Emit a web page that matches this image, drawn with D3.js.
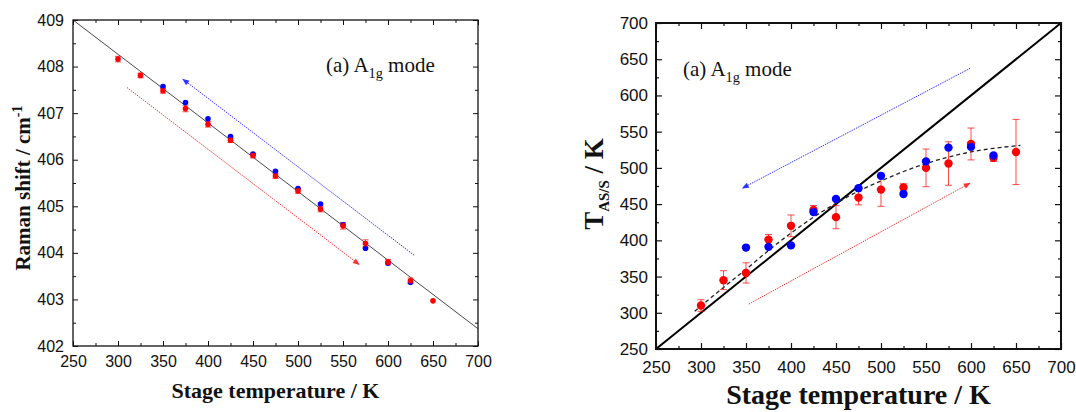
<!DOCTYPE html>
<html>
<head>
<meta charset="utf-8">
<script src="https://cdn.jsdelivr.net/npm/d3@7"></script>
<style>
  html, body { margin: 0; padding: 0; background: #fff; }
  svg { display: block; }
  .tick-label { font-family: "Liberation Sans", Arial, sans-serif; fill: #111; }
  .axis-title { font-family: "Liberation Serif", "Times New Roman", serif; font-weight: bold; fill: #111; }
  .note { font-family: "Liberation Serif", "Times New Roman", serif; fill: #111; }
</style>
</head>
<body>
<svg id="chart" width="1076" height="412"></svg>
<script>
// ── Data ──────────────────────────────────────────────────────────────────────

const xTicks = [250, 300, 350, 400, 450, 500, 550, 600, 650, 700];
const ramanTicks = [402, 403, 404, 405, 406, 407, 408, 409];
const tempTicks = [250, 300, 350, 400, 450, 500, 550, 600, 650, 700];

// left: Raman shift (cm-1)
const ramanRedT   = [300, 325, 350, 375, 400, 425, 450, 475, 500, 525, 550, 575, 600, 625, 650];
const ramanRed    = [408.16, 407.81, 407.48, 407.10, 406.76, 406.42, 406.09, 405.65, 405.33, 404.94, 404.58, 404.20, 403.80, 403.40, 402.97];
const ramanRedErr = [0.06, 0.05, 0.05, 0.07, 0.06, 0.05, 0.05, 0.05, 0.05, 0.06, 0.07, 0.08, 0.06, 0.06, 0.0];
const ramanBlueT  = [350, 375, 400, 425, 450, 475, 500, 525, 550, 575, 600, 625];
const ramanBlue   = [407.57, 407.23, 406.88, 406.50, 406.12, 405.75, 405.38, 405.05, 404.60, 404.10, 403.78, 403.37];
const ramanFit    = [[250, 409.0], [700, 402.37]];
const ramanArrowBlue = [[629, 403.95], [372, 407.73]];
const ramanArrowRed  = [[310, 407.55], [568, 403.75]];

// right: T_AS/S (K)
const tasRedT   = [300, 325, 350, 375, 400, 425, 450, 475, 500, 525, 550, 575, 600, 625, 650];
const tasRed    = [310, 345, 355, 401, 420, 442, 432, 459, 470, 473, 500, 506, 533, 514, 522];
const tasRedErr = [8, 13, 14, 7, 15, 6, 16, 10, 23, 5, 26, 30, 22, 5, 45];
const tasBlueT  = [350, 375, 400, 425, 450, 475, 500, 525, 550, 575, 600, 625];
const tasBlue   = [390, 391, 393, 439, 457, 472, 489, 464, 509, 528, 529, 517];
const tasFitT   = [293, 325, 350, 375, 400, 425, 450, 475, 500, 525, 550, 575, 600, 625, 655];
const tasFit    = [302, 335, 360, 386, 410, 432, 451, 468, 482, 495, 506, 515, 522, 527, 531];
const identity  = [[250, 250], [700, 700]];
const tasArrowBlue = [[599, 637.5], [346, 472]];
const tasArrowRed  = [[353, 312], [599, 479]];

const RED = "#ff0000";
const BLUE = "#0000ff";

const svg = d3.select("#chart");

// arrow heads
const defs = svg.append("defs");
[["head-red", RED], ["head-blue", BLUE]].forEach(([id, col]) => {
  defs.append("marker")
    .attr("id", id)
    .attr("viewBox", "0 0 10 10")
    .attr("refX", 9).attr("refY", 5)
    .attr("markerWidth", 9).attr("markerHeight", 7)
    .attr("markerUnits", "userSpaceOnUse")
    .attr("orient", "auto")
    .append("path")
    .attr("d", "M0,1 L10,5 L0,9 Z")
    .attr("fill", col);
});

// ── Frame + ticks ─────────────────────────────────────────────────────────────

function frame(g, x, y, opt) {
  const [x0, x1] = x.range();
  const [y0, y1] = y.range(); // y0 bottom
  const minorX = d3.range(275, 700, 50);
  const yStep = opt.yTicks[1] - opt.yTicks[0];
  const minorY = opt.yTicks.slice(0, -1).map((d) => d + yStep / 2);
  const fmt = d3.format("d");

  const ax = (axis, tx, ty) => g.append("g")
    .attr("transform", `translate(${tx},${ty})`)
    .call(axis)
    .call((s) => s.select(".domain").remove())
    .call((s) => s.selectAll("line").attr("stroke", "#111").attr("stroke-width", opt.tickW));

  // major, labelled
  ax(d3.axisBottom(x).tickValues(xTicks).tickFormat(fmt).tickSize(-opt.major).tickPadding(opt.xPad), 0, y0)
    .selectAll("text").attr("class", "tick-label").style("font-size", opt.tickFont + "px").attr("font-family", null);
  ax(d3.axisLeft(y).tickValues(opt.yTicks).tickFormat(fmt).tickSize(-opt.major).tickPadding(opt.yPad), x0, 0)
    .selectAll("text").attr("class", "tick-label").style("font-size", opt.tickFont + "px").attr("font-family", null);
  ax(d3.axisTop(x).tickValues(xTicks).tickSize(-opt.major).tickFormat(""), 0, y1);
  ax(d3.axisRight(y).tickValues(opt.yTicks).tickSize(-opt.major).tickFormat(""), x1, 0);
  // minor
  ax(d3.axisBottom(x).tickValues(minorX).tickSize(-opt.minor).tickFormat(""), 0, y0);
  ax(d3.axisTop(x).tickValues(minorX).tickSize(-opt.minor).tickFormat(""), 0, y1);
  ax(d3.axisLeft(y).tickValues(minorY).tickSize(-opt.minor).tickFormat(""), x0, 0);
  ax(d3.axisRight(y).tickValues(minorY).tickSize(-opt.minor).tickFormat(""), x1, 0);

  g.append("rect")
    .attr("x", x0).attr("y", y1)
    .attr("width", x1 - x0).attr("height", y0 - y1)
    .attr("fill", "none").attr("stroke", "#111").attr("stroke-width", opt.frameW);
}

function arrow(g, x, y, pts, col, head) {
  g.append("line")
    .attr("x1", x(pts[0][0])).attr("y1", y(pts[0][1]))
    .attr("x2", x(pts[1][0])).attr("y2", y(pts[1][1]))
    .attr("stroke", col).attr("stroke-width", 1)
    .attr("stroke-dasharray", "1.5,1")
    .attr("opacity", 0.8)
    .attr("marker-end", `url(#${head})`);
}

function errorBars(g, x, y, ts, vs, es, cap, col) {
  const d = ts.map((t, i) => ({ t, v: vs[i], e: es[i] })).filter((d) => d.e > 0);
  g.selectAll(null).data(d).join("line")
    .attr("x1", (d) => x(d.t)).attr("x2", (d) => x(d.t))
    .attr("y1", (d) => y(d.v - d.e)).attr("y2", (d) => y(d.v + d.e))
    .attr("stroke", col).attr("stroke-width", 1).attr("opacity", 0.7);
  ["-", "+"].forEach((sgn) => {
    g.selectAll(null).data(d).join("line")
      .attr("x1", (d) => x(d.t) - cap).attr("x2", (d) => x(d.t) + cap)
      .attr("y1", (d) => y(sgn === "+" ? d.v + d.e : d.v - d.e))
      .attr("y2", (d) => y(sgn === "+" ? d.v + d.e : d.v - d.e))
      .attr("stroke", col).attr("stroke-width", 1).attr("opacity", 0.7);
  });
}

function dots(g, x, y, ts, vs, r, col) {
  g.selectAll(null).data(ts.map((t, i) => [t, vs[i]])).join("circle")
    .attr("cx", (d) => x(d[0])).attr("cy", (d) => y(d[1]))
    .attr("r", r).attr("fill", col);
}

function modeNote(g, px, py, size) {
  const t = g.append("text").attr("class", "note")
    .attr("x", px).attr("y", py).style("font-size", size + "px");
  t.append("tspan").text("(a) A");
  t.append("tspan").attr("dy", size * 0.3).style("font-size", (size * 0.68) + "px").text("1g");
  t.append("tspan").attr("dy", -size * 0.3).text(" mode");
}

// ── Left panel: Raman shift ───────────────────────────────────────────────────

function drawRaman() {
  const g = svg.append("g");
  const x = d3.scaleLinear().domain([250, 700]).range([73, 478]);
  const y = d3.scaleLinear().domain([402, 409]).range([346, 20]);

  g.append("line")
    .attr("x1", x(ramanFit[0][0])).attr("y1", y(ramanFit[0][1]))
    .attr("x2", x(ramanFit[1][0])).attr("y2", y(ramanFit[1][1]))
    .attr("stroke", "#333").attr("stroke-width", 0.9);

  arrow(g, x, y, ramanArrowBlue, BLUE, "head-blue");
  arrow(g, x, y, ramanArrowRed, RED, "head-red");

  errorBars(g, x, y, ramanRedT, ramanRed, ramanRedErr, 3, RED);
  dots(g, x, y, ramanBlueT, ramanBlue, 2.8, BLUE);
  dots(g, x, y, ramanRedT, ramanRed, 2.8, RED);

  frame(g, x, y, { yTicks: ramanTicks, major: 5, minor: 3, tickW: 1, frameW: 1.3,
                   xPad: 10, yPad: 9, tickFont: 16 });

  modeNote(g, 326, 72, 21);

  g.append("text").attr("class", "axis-title")
    .attr("x", 275.5).attr("y", 398)
    .attr("text-anchor", "middle").style("font-size", "22px")
    .text("Stage temperature / K");

  const yl = g.append("text").attr("class", "axis-title")
    .attr("transform", "translate(30,188) rotate(-90)")
    .attr("text-anchor", "middle").style("font-size", "21px");
  yl.append("tspan").text("Raman shift / cm");
  yl.append("tspan").attr("dy", -8).style("font-size", "14px").text("-1");
}

// ── Right panel: T_AS/S ───────────────────────────────────────────────────────

function drawTas() {
  const g = svg.append("g");
  const x = d3.scaleLinear().domain([250, 700]).range([656, 1061]);
  const y = d3.scaleLinear().domain([250, 700]).range([349, 23]);

  g.append("line")
    .attr("x1", x(identity[0][0])).attr("y1", y(identity[0][1]))
    .attr("x2", x(identity[1][0])).attr("y2", y(identity[1][1]))
    .attr("stroke", "#000").attr("stroke-width", 2);

  g.append("path")
    .datum(tasFitT.map((t, i) => [t, tasFit[i]]))
    .attr("d", d3.line().x((d) => x(d[0])).y((d) => y(d[1])).curve(d3.curveMonotoneX))
    .attr("fill", "none").attr("stroke", "#222").attr("stroke-width", 1.3)
    .attr("stroke-dasharray", "4,3");

  arrow(g, x, y, tasArrowBlue, BLUE, "head-blue");
  arrow(g, x, y, tasArrowRed, RED, "head-red");

  errorBars(g, x, y, tasRedT, tasRed, tasRedErr, 3.5, RED);
  dots(g, x, y, tasRedT, tasRed, 4.2, RED);
  dots(g, x, y, tasBlueT, tasBlue, 4.2, BLUE);

  frame(g, x, y, { yTicks: tempTicks, major: 6, minor: 3, tickW: 1.2, frameW: 2,
                   xPad: 12, yPad: 8, tickFont: 17 });

  modeNote(g, 683, 76, 21);

  g.append("text").attr("class", "axis-title")
    .attr("x", 858.5).attr("y", 404)
    .attr("text-anchor", "middle").style("font-size", "28px")
    .text("Stage temperature / K");

  const yl = g.append("text").attr("class", "axis-title")
    .attr("transform", "translate(603,184) rotate(-90)")
    .attr("text-anchor", "middle").style("font-size", "27px");
  yl.append("tspan").text("T");
  yl.append("tspan").attr("dy", 6).style("font-size", "15px").text("AS/S");
  yl.append("tspan").attr("dy", -6).text(" / K");
}

drawRaman();
drawTas();
</script>
</body>
</html>
